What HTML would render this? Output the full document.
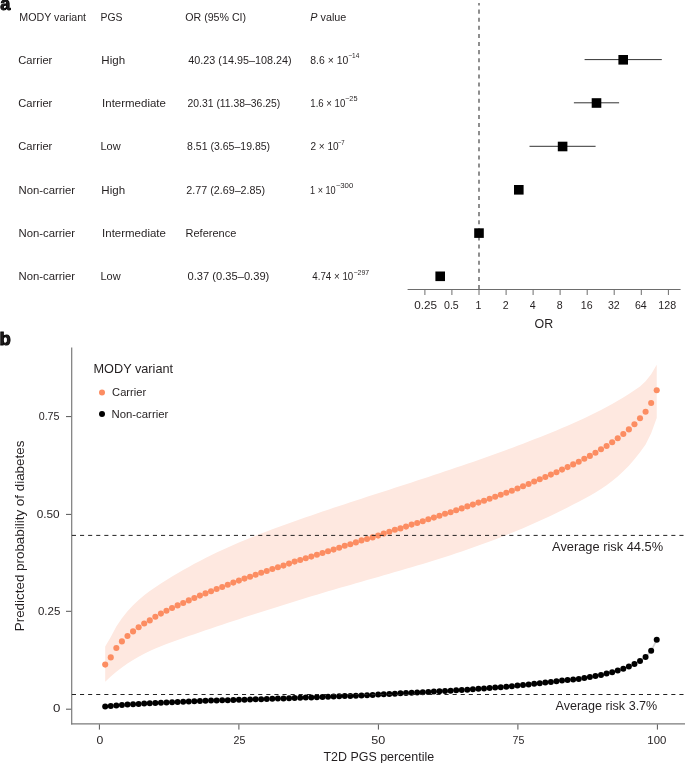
<!DOCTYPE html>
<html><head><meta charset="utf-8"><style>
html,body{margin:0;padding:0;background:#fff;}
svg{display:block;will-change:transform;}
text{font-family:"Liberation Sans", sans-serif;fill:#231f20;}
</style></head><body>
<svg width="685" height="763" viewBox="0 0 685 763">
<rect width="685" height="763" fill="#fff"/>

<text x="0.3" y="9.9" font-size="18.2" font-weight="bold" fill="#000" stroke="#000" stroke-width="0.9">a</text>
<text x="-0.6" y="345.2" font-size="18.6" font-weight="bold" fill="#000" stroke="#000" stroke-width="0.9">b</text>
<text id="h1" x="19.30" y="20.8" font-size="10.6" textLength="66.80" lengthAdjust="spacingAndGlyphs">MODY variant</text>
<text id="h2" x="100.50" y="20.8" font-size="10.6" textLength="22.00" lengthAdjust="spacingAndGlyphs">PGS</text>
<text id="h3" x="185.30" y="20.8" font-size="10.6" textLength="60.80" lengthAdjust="spacingAndGlyphs">OR (95% CI)</text>
<text id="h4" x="310.30" y="20.8" font-size="10.6" textLength="36.00" lengthAdjust="spacingAndGlyphs"><tspan font-style="italic">P</tspan> value</text>
<text id="r0c1" x="18.30" y="63.6" font-size="10.6" textLength="34.00" lengthAdjust="spacingAndGlyphs">Carrier</text>
<text id="r0c2" x="101.30" y="63.6" font-size="10.6" textLength="23.80" lengthAdjust="spacingAndGlyphs">High</text>
<text id="r0c3" x="188.30" y="63.6" font-size="10.6" textLength="103.20" lengthAdjust="spacingAndGlyphs">40.23 (14.95–108.24)</text>
<text id="r0p" x="310.30" y="63.6" font-size="10.6" textLength="38.00" lengthAdjust="spacingAndGlyphs">8.6 × 10</text>
<text id="r0s" x="348.30" y="57.9" font-size="6.9" textLength="11.00" lengthAdjust="spacingAndGlyphs">−14</text>
<text id="r1c1" x="18.30" y="107" font-size="10.6" textLength="34.00" lengthAdjust="spacingAndGlyphs">Carrier</text>
<text id="r1c2" x="102.10" y="107" font-size="10.6" textLength="63.80" lengthAdjust="spacingAndGlyphs">Intermediate</text>
<text id="r1c3" x="187.50" y="107" font-size="10.6" textLength="92.80" lengthAdjust="spacingAndGlyphs">20.31 (11.38–36.25)</text>
<text id="r1p" x="310.30" y="107" font-size="10.6" textLength="35.00" lengthAdjust="spacingAndGlyphs">1.6 × 10</text>
<text id="r1s" x="345.10" y="101.3" font-size="6.9" textLength="12.40" lengthAdjust="spacingAndGlyphs">−25</text>
<text id="r2c1" x="18.30" y="150.4" font-size="10.6" textLength="34.00" lengthAdjust="spacingAndGlyphs">Carrier</text>
<text id="r2c2" x="100.50" y="150.4" font-size="10.6" textLength="20.20" lengthAdjust="spacingAndGlyphs">Low</text>
<text id="r2c3" x="187.10" y="150.4" font-size="10.6" textLength="83.00" lengthAdjust="spacingAndGlyphs">8.51 (3.65–19.85)</text>
<text id="r2p" x="310.50" y="150.4" font-size="10.6" textLength="28.20" lengthAdjust="spacingAndGlyphs">2 × 10</text>
<text id="r2s" x="337.70" y="144.7" font-size="6.9" textLength="6.80" lengthAdjust="spacingAndGlyphs">−7</text>
<text id="r3c1" x="18.50" y="193.6" font-size="10.6" textLength="56.60" lengthAdjust="spacingAndGlyphs">Non-carrier</text>
<text id="r3c2" x="101.30" y="193.6" font-size="10.6" textLength="23.80" lengthAdjust="spacingAndGlyphs">High</text>
<text id="r3c3" x="186.30" y="193.6" font-size="10.6" textLength="78.80" lengthAdjust="spacingAndGlyphs">2.77 (2.69–2.85)</text>
<text id="r3p" x="310.10" y="193.6" font-size="10.6" textLength="25.60" lengthAdjust="spacingAndGlyphs">1 × 10</text>
<text id="r3s" x="335.70" y="187.9" font-size="6.9" textLength="17.60" lengthAdjust="spacingAndGlyphs">−300</text>
<text id="r4c1" x="18.50" y="237" font-size="10.6" textLength="56.60" lengthAdjust="spacingAndGlyphs">Non-carrier</text>
<text id="r4c2" x="102.10" y="237" font-size="10.6" textLength="63.80" lengthAdjust="spacingAndGlyphs">Intermediate</text>
<text id="r4c3" x="185.50" y="237" font-size="10.6" textLength="50.80" lengthAdjust="spacingAndGlyphs">Reference</text>
<text id="r5c1" x="18.50" y="280.4" font-size="10.6" textLength="56.60" lengthAdjust="spacingAndGlyphs">Non-carrier</text>
<text id="r5c2" x="100.50" y="280.4" font-size="10.6" textLength="20.20" lengthAdjust="spacingAndGlyphs">Low</text>
<text id="r5c3" x="187.50" y="280.4" font-size="10.6" textLength="81.80" lengthAdjust="spacingAndGlyphs">0.37 (0.35–0.39)</text>
<text id="r5p" x="312.30" y="280.4" font-size="10.6" textLength="41.00" lengthAdjust="spacingAndGlyphs">4.74 × 10</text>
<text id="r5s" x="353.50" y="274.7" font-size="6.9" textLength="15.60" lengthAdjust="spacingAndGlyphs">−297</text>
<text id="fOR" x="534.50" y="328.4" font-size="12" textLength="18.60" lengthAdjust="spacingAndGlyphs">OR</text>
<text id="yt0" x="53.10" y="712.4" font-size="10.6" textLength="7.40" lengthAdjust="spacingAndGlyphs">0</text>
<text id="yt1" x="37.90" y="614.8" font-size="10.6" textLength="22.40" lengthAdjust="spacingAndGlyphs">0.25</text>
<text id="yt2" x="36.70" y="517.6" font-size="10.6" textLength="23.00" lengthAdjust="spacingAndGlyphs">0.50</text>
<text id="yt3" x="38.70" y="420.2" font-size="10.6" textLength="20.80" lengthAdjust="spacingAndGlyphs">0.75</text>
<text id="xt0" x="96.50" y="743.8" font-size="10.6" textLength="6.80" lengthAdjust="spacingAndGlyphs">0</text>
<text id="xt50" x="371.30" y="743.8" font-size="10.6" textLength="14.00" lengthAdjust="spacingAndGlyphs">50</text>
<text id="xt100" x="647.30" y="743.8" font-size="10.6" textLength="19.00" lengthAdjust="spacingAndGlyphs">100</text>
<text id="t2d" x="323.50" y="760.6" font-size="12.4" textLength="110.60" lengthAdjust="spacingAndGlyphs">T2D PGS percentile</text>
<text id="avg1" x="552.10" y="551.4" font-size="12.2" textLength="111.00" lengthAdjust="spacingAndGlyphs">Average risk 44.5%</text>
<text id="avg2" x="555.50" y="710" font-size="12.2" textLength="101.80" lengthAdjust="spacingAndGlyphs">Average risk 3.7%</text>
<text id="leg0" x="93.50" y="372.6" font-size="12.4" textLength="79.60" lengthAdjust="spacingAndGlyphs">MODY variant</text>
<text id="leg1" x="112.10" y="396.4" font-size="10.8" textLength="34.00" lengthAdjust="spacingAndGlyphs">Carrier</text>
<text id="leg2" x="111.50" y="418" font-size="10.8" textLength="56.80" lengthAdjust="spacingAndGlyphs">Non-carrier</text>
<text id="ft0.25" x="414.30" y="309" font-size="10.6" textLength="22.80" lengthAdjust="spacingAndGlyphs">0.25</text>
<text x="451.4" y="309" font-size="10.6" text-anchor="middle">0.5</text>
<text x="478.5" y="309" font-size="10.6" text-anchor="middle">1</text>
<text x="505.6" y="309" font-size="10.6" text-anchor="middle">2</text>
<text x="532.6" y="309" font-size="10.6" text-anchor="middle">4</text>
<text x="559.6" y="309" font-size="10.6" text-anchor="middle">8</text>
<text x="586.7" y="309" font-size="10.6" text-anchor="middle">16</text>
<text x="613.8" y="309" font-size="10.6" text-anchor="middle">32</text>
<text x="640.8" y="309" font-size="10.6" text-anchor="middle">64</text>
<text id="ft128" x="658.30" y="309" font-size="10.6" textLength="17.80" lengthAdjust="spacingAndGlyphs">128</text>
<g stroke="#6d6d6d" stroke-width="1" fill="none">
<line x1="407.6" y1="289.5" x2="680.6" y2="289.5"/>
<line x1="424.9" y1="289.5" x2="424.9" y2="295"/>
<line x1="451.9" y1="289.5" x2="451.9" y2="295"/>
<line x1="479.0" y1="289.5" x2="479.0" y2="295"/>
<line x1="506.1" y1="289.5" x2="506.1" y2="295"/>
<line x1="533.1" y1="289.5" x2="533.1" y2="295"/>
<line x1="560.1" y1="289.5" x2="560.1" y2="295"/>
<line x1="587.2" y1="289.5" x2="587.2" y2="295"/>
<line x1="614.2" y1="289.5" x2="614.2" y2="295"/>
<line x1="641.3" y1="289.5" x2="641.3" y2="295"/>
<line x1="668.4" y1="289.5" x2="668.4" y2="295"/>
</g>
<line x1="479.0" y1="3.0" x2="479.0" y2="289.4" stroke="#2a2a2a" stroke-width="1.05" stroke-dasharray="4.05 4.05" stroke-dashoffset="1.5"/>
<line x1="584.6" y1="59.6" x2="661.8" y2="59.6" stroke="#333" stroke-width="1"/>
<rect x="618.4" y="55.0" width="9.6" height="9.6" fill="#000"/>
<line x1="573.9" y1="102.8" x2="619.1" y2="102.8" stroke="#333" stroke-width="1"/>
<rect x="591.7" y="98.2" width="9.6" height="9.6" fill="#000"/>
<line x1="529.5" y1="146.3" x2="595.6" y2="146.3" stroke="#333" stroke-width="1"/>
<rect x="557.8" y="141.7" width="9.6" height="9.6" fill="#000"/>
<rect x="514.0" y="185.0" width="9.6" height="9.6" fill="#000"/>
<rect x="474.2" y="228.29999999999998" width="9.6" height="9.6" fill="#000"/>
<rect x="435.4" y="271.5" width="9.6" height="9.6" fill="#000"/>
<path d="M105.20,646.53 L110.77,636.95 L116.34,626.42 L121.91,618.29 L127.48,611.35 L133.06,605.30 L138.63,600.01 L144.20,595.33 L149.77,591.12 L155.34,587.25 L160.91,583.57 L166.48,580.02 L172.05,576.57 L177.62,573.24 L183.19,570.01 L188.77,566.88 L194.34,563.84 L199.91,560.90 L205.48,558.05 L211.05,555.28 L216.62,552.59 L222.19,549.98 L227.76,547.44 L233.33,544.98 L238.91,542.57 L244.48,540.23 L250.05,537.94 L255.62,535.71 L261.19,533.52 L266.76,531.38 L272.33,529.28 L277.90,527.22 L283.47,525.19 L289.04,523.19 L294.62,521.22 L300.19,519.26 L305.76,517.33 L311.33,515.41 L316.90,513.50 L322.47,511.61 L328.04,509.74 L333.61,507.87 L339.18,506.02 L344.75,504.17 L350.32,502.34 L355.90,500.51 L361.47,498.68 L367.04,496.87 L372.61,495.05 L378.18,493.24 L383.75,491.44 L389.32,489.63 L394.89,487.82 L400.46,486.01 L406.03,484.20 L411.61,482.39 L417.18,480.57 L422.75,478.74 L428.32,476.91 L433.89,475.07 L439.46,473.22 L445.03,471.36 L450.60,469.49 L456.17,467.61 L461.75,465.72 L467.32,463.81 L472.89,461.88 L478.46,459.94 L484.03,457.98 L489.60,456.00 L495.17,454.00 L500.74,451.98 L506.31,449.94 L511.88,447.88 L517.45,445.79 L523.03,443.67 L528.60,441.53 L534.17,439.36 L539.74,437.16 L545.31,434.94 L550.88,432.68 L556.45,430.39 L562.02,428.05 L567.59,425.67 L573.16,423.23 L578.74,420.72 L584.31,418.14 L589.88,415.48 L595.45,412.73 L601.02,409.89 L606.59,406.94 L612.16,403.88 L617.73,400.70 L623.30,397.39 L628.88,393.95 L634.45,390.37 L640.02,386.40 L645.59,381.31 L651.16,374.32 L656.73,364.64 L656.73,417.95 L651.16,433.34 L645.59,444.43 L640.02,452.27 L634.45,459.32 L628.88,465.65 L623.30,471.33 L617.73,476.43 L612.16,481.01 L606.59,485.16 L601.02,488.93 L595.45,492.40 L589.88,495.64 L584.31,498.72 L578.74,501.70 L573.16,504.62 L567.59,507.47 L562.02,510.26 L556.45,513.00 L550.88,515.67 L545.31,518.29 L539.74,520.85 L534.17,523.35 L528.60,525.80 L523.03,528.20 L517.45,530.54 L511.88,532.84 L506.31,535.09 L500.74,537.29 L495.17,539.44 L489.60,541.54 L484.03,543.61 L478.46,545.62 L472.89,547.60 L467.32,549.54 L461.75,551.44 L456.17,553.31 L450.60,555.14 L445.03,556.94 L439.46,558.71 L433.89,560.46 L428.32,562.18 L422.75,563.88 L417.18,565.56 L411.61,567.22 L406.03,568.86 L400.46,570.49 L394.89,572.11 L389.32,573.72 L383.75,575.32 L378.18,576.91 L372.61,578.51 L367.04,580.10 L361.47,581.69 L355.90,583.28 L350.32,584.88 L344.75,586.49 L339.18,588.11 L333.61,589.73 L328.04,591.37 L322.47,593.02 L316.90,594.68 L311.33,596.36 L305.76,598.04 L300.19,599.74 L294.62,601.44 L289.04,603.16 L283.47,604.89 L277.90,606.63 L272.33,608.39 L266.76,610.15 L261.19,611.93 L255.62,613.72 L250.05,615.52 L244.48,617.33 L238.91,619.16 L233.33,620.99 L227.76,622.84 L222.19,624.70 L216.62,626.57 L211.05,628.46 L205.48,630.36 L199.91,632.27 L194.34,634.19 L188.77,636.12 L183.19,638.07 L177.62,640.03 L172.05,642.01 L166.48,644.07 L160.91,646.23 L155.34,648.53 L149.77,651.00 L144.20,653.70 L138.63,656.64 L133.06,659.88 L127.48,663.45 L121.91,667.38 L116.34,671.72 L110.77,676.49 L105.20,681.75 Z" fill="#fee8e0"/>
<g stroke="#7a7a7a" stroke-width="1.2" fill="none">
<line x1="71.7" y1="347.6" x2="71.7" y2="724.4"/>
<line x1="71.1" y1="723.8" x2="685" y2="723.8"/>
</g>
<g stroke="#555" stroke-width="1" fill="none">
<line x1="66" y1="709.2" x2="71.2" y2="709.2"/>
<line x1="66" y1="611.3" x2="71.2" y2="611.3"/>
<line x1="66" y1="514.4" x2="71.2" y2="514.4"/>
<line x1="66" y1="416.6" x2="71.2" y2="416.6"/>
<line x1="99.4" y1="724.4" x2="99.4" y2="729.6"/>
<line x1="238.9" y1="724.4" x2="238.9" y2="729.6"/>
<line x1="378.4" y1="724.4" x2="378.4" y2="729.6"/>
<line x1="517.9" y1="724.4" x2="517.9" y2="729.6"/>
<line x1="657.4" y1="724.4" x2="657.4" y2="729.6"/>
</g>
<text x="239.4" y="743.8" font-size="10.6" text-anchor="middle">25</text>
<text x="518.4" y="743.8" font-size="10.6" text-anchor="middle">75</text>
<text transform="translate(24.2,535.95) rotate(-90)" x="0" y="0" font-size="13.6" text-anchor="middle" textLength="190.6" lengthAdjust="spacingAndGlyphs">Predicted probability of diabetes</text>
<circle cx="102" cy="392.4" r="3" fill="#fc8d62"/>
<circle cx="102" cy="414" r="3" fill="#000"/>
<polyline fill="none" stroke="#d4d4d4" stroke-width="1.7" points="105.20,706.60 110.77,705.90 116.34,705.40 121.91,704.98 127.48,704.60 133.06,704.25 138.63,703.91 144.20,703.59 149.77,703.28 155.34,703.00 160.91,702.74 166.48,702.50 172.05,702.26 177.62,702.03 183.19,701.80 188.77,701.55 194.34,701.29 199.91,701.04 205.48,700.80 211.05,700.60 216.62,700.43 222.19,700.29 227.76,700.15 233.33,700.00 238.91,699.84 244.48,699.68 250.05,699.52 255.62,699.35 261.19,699.18 266.76,699.00 272.33,698.81 277.90,698.61 283.47,698.41 289.04,698.20 294.62,698.00 300.19,697.80 305.76,697.61 311.33,697.41 316.90,697.21 322.47,697.00 328.04,696.79 333.61,696.57 339.18,696.34 344.75,696.12 350.32,695.88 355.90,695.65 361.47,695.40 367.04,695.15 372.61,694.88 378.18,694.60 383.75,694.30 389.32,693.97 394.89,693.64 400.46,693.31 406.03,693.00 411.61,692.71 417.18,692.44 422.75,692.16 428.32,691.89 433.89,691.60 439.46,691.30 445.03,690.99 450.60,690.68 456.17,690.35 461.75,690.00 467.32,689.63 472.89,689.23 478.46,688.82 484.03,688.41 489.60,688.00 495.17,687.60 500.74,687.14 506.31,686.65 511.88,686.14 517.45,685.60 523.03,685.04 528.60,684.45 534.17,683.84 539.74,683.22 545.31,682.60 550.88,681.95 556.45,681.25 562.02,680.57 567.59,679.93 573.16,679.40 578.74,679.00 584.31,678.00 589.88,677.00 595.45,676.00 601.02,675.00 606.59,673.60 612.16,672.20 617.73,670.60 623.30,668.80 628.88,666.60 634.45,664.00 640.02,661.00 645.59,657.00 651.16,650.80 656.73,639.80"/>
<circle cx="105.20" cy="706.60" r="3.0" fill="#000"/>
<circle cx="110.77" cy="705.90" r="3.0" fill="#000"/>
<circle cx="116.34" cy="705.40" r="3.0" fill="#000"/>
<circle cx="121.91" cy="704.98" r="3.0" fill="#000"/>
<circle cx="127.48" cy="704.60" r="3.0" fill="#000"/>
<circle cx="133.06" cy="704.25" r="3.0" fill="#000"/>
<circle cx="138.63" cy="703.91" r="3.0" fill="#000"/>
<circle cx="144.20" cy="703.59" r="3.0" fill="#000"/>
<circle cx="149.77" cy="703.28" r="3.0" fill="#000"/>
<circle cx="155.34" cy="703.00" r="3.0" fill="#000"/>
<circle cx="160.91" cy="702.74" r="3.0" fill="#000"/>
<circle cx="166.48" cy="702.50" r="3.0" fill="#000"/>
<circle cx="172.05" cy="702.26" r="3.0" fill="#000"/>
<circle cx="177.62" cy="702.03" r="3.0" fill="#000"/>
<circle cx="183.19" cy="701.80" r="3.0" fill="#000"/>
<circle cx="188.77" cy="701.55" r="3.0" fill="#000"/>
<circle cx="194.34" cy="701.29" r="3.0" fill="#000"/>
<circle cx="199.91" cy="701.04" r="3.0" fill="#000"/>
<circle cx="205.48" cy="700.80" r="3.0" fill="#000"/>
<circle cx="211.05" cy="700.60" r="3.0" fill="#000"/>
<circle cx="216.62" cy="700.43" r="3.0" fill="#000"/>
<circle cx="222.19" cy="700.29" r="3.0" fill="#000"/>
<circle cx="227.76" cy="700.15" r="3.0" fill="#000"/>
<circle cx="233.33" cy="700.00" r="3.0" fill="#000"/>
<circle cx="238.91" cy="699.84" r="3.0" fill="#000"/>
<circle cx="244.48" cy="699.68" r="3.0" fill="#000"/>
<circle cx="250.05" cy="699.52" r="3.0" fill="#000"/>
<circle cx="255.62" cy="699.35" r="3.0" fill="#000"/>
<circle cx="261.19" cy="699.18" r="3.0" fill="#000"/>
<circle cx="266.76" cy="699.00" r="3.0" fill="#000"/>
<circle cx="272.33" cy="698.81" r="3.0" fill="#000"/>
<circle cx="277.90" cy="698.61" r="3.0" fill="#000"/>
<circle cx="283.47" cy="698.41" r="3.0" fill="#000"/>
<circle cx="289.04" cy="698.20" r="3.0" fill="#000"/>
<circle cx="294.62" cy="698.00" r="3.0" fill="#000"/>
<circle cx="300.19" cy="697.80" r="3.0" fill="#000"/>
<circle cx="305.76" cy="697.61" r="3.0" fill="#000"/>
<circle cx="311.33" cy="697.41" r="3.0" fill="#000"/>
<circle cx="316.90" cy="697.21" r="3.0" fill="#000"/>
<circle cx="322.47" cy="697.00" r="3.0" fill="#000"/>
<circle cx="328.04" cy="696.79" r="3.0" fill="#000"/>
<circle cx="333.61" cy="696.57" r="3.0" fill="#000"/>
<circle cx="339.18" cy="696.34" r="3.0" fill="#000"/>
<circle cx="344.75" cy="696.12" r="3.0" fill="#000"/>
<circle cx="350.32" cy="695.88" r="3.0" fill="#000"/>
<circle cx="355.90" cy="695.65" r="3.0" fill="#000"/>
<circle cx="361.47" cy="695.40" r="3.0" fill="#000"/>
<circle cx="367.04" cy="695.15" r="3.0" fill="#000"/>
<circle cx="372.61" cy="694.88" r="3.0" fill="#000"/>
<circle cx="378.18" cy="694.60" r="3.0" fill="#000"/>
<circle cx="383.75" cy="694.30" r="3.0" fill="#000"/>
<circle cx="389.32" cy="693.97" r="3.0" fill="#000"/>
<circle cx="394.89" cy="693.64" r="3.0" fill="#000"/>
<circle cx="400.46" cy="693.31" r="3.0" fill="#000"/>
<circle cx="406.03" cy="693.00" r="3.0" fill="#000"/>
<circle cx="411.61" cy="692.71" r="3.0" fill="#000"/>
<circle cx="417.18" cy="692.44" r="3.0" fill="#000"/>
<circle cx="422.75" cy="692.16" r="3.0" fill="#000"/>
<circle cx="428.32" cy="691.89" r="3.0" fill="#000"/>
<circle cx="433.89" cy="691.60" r="3.0" fill="#000"/>
<circle cx="439.46" cy="691.30" r="3.0" fill="#000"/>
<circle cx="445.03" cy="690.99" r="3.0" fill="#000"/>
<circle cx="450.60" cy="690.68" r="3.0" fill="#000"/>
<circle cx="456.17" cy="690.35" r="3.0" fill="#000"/>
<circle cx="461.75" cy="690.00" r="3.0" fill="#000"/>
<circle cx="467.32" cy="689.63" r="3.0" fill="#000"/>
<circle cx="472.89" cy="689.23" r="3.0" fill="#000"/>
<circle cx="478.46" cy="688.82" r="3.0" fill="#000"/>
<circle cx="484.03" cy="688.41" r="3.0" fill="#000"/>
<circle cx="489.60" cy="688.00" r="3.0" fill="#000"/>
<circle cx="495.17" cy="687.60" r="3.0" fill="#000"/>
<circle cx="500.74" cy="687.14" r="3.0" fill="#000"/>
<circle cx="506.31" cy="686.65" r="3.0" fill="#000"/>
<circle cx="511.88" cy="686.14" r="3.0" fill="#000"/>
<circle cx="517.45" cy="685.60" r="3.0" fill="#000"/>
<circle cx="523.03" cy="685.04" r="3.0" fill="#000"/>
<circle cx="528.60" cy="684.45" r="3.0" fill="#000"/>
<circle cx="534.17" cy="683.84" r="3.0" fill="#000"/>
<circle cx="539.74" cy="683.22" r="3.0" fill="#000"/>
<circle cx="545.31" cy="682.60" r="3.0" fill="#000"/>
<circle cx="550.88" cy="681.95" r="3.0" fill="#000"/>
<circle cx="556.45" cy="681.25" r="3.0" fill="#000"/>
<circle cx="562.02" cy="680.57" r="3.0" fill="#000"/>
<circle cx="567.59" cy="679.93" r="3.0" fill="#000"/>
<circle cx="573.16" cy="679.40" r="3.0" fill="#000"/>
<circle cx="578.74" cy="679.00" r="3.0" fill="#000"/>
<circle cx="584.31" cy="678.00" r="3.0" fill="#000"/>
<circle cx="589.88" cy="677.00" r="3.0" fill="#000"/>
<circle cx="595.45" cy="676.00" r="3.0" fill="#000"/>
<circle cx="601.02" cy="675.00" r="3.0" fill="#000"/>
<circle cx="606.59" cy="673.60" r="3.0" fill="#000"/>
<circle cx="612.16" cy="672.20" r="3.0" fill="#000"/>
<circle cx="617.73" cy="670.60" r="3.0" fill="#000"/>
<circle cx="623.30" cy="668.80" r="3.0" fill="#000"/>
<circle cx="628.88" cy="666.60" r="3.0" fill="#000"/>
<circle cx="634.45" cy="664.00" r="3.0" fill="#000"/>
<circle cx="640.02" cy="661.00" r="3.0" fill="#000"/>
<circle cx="645.59" cy="657.00" r="3.0" fill="#000"/>
<circle cx="651.16" cy="650.80" r="3.0" fill="#000"/>
<circle cx="656.73" cy="639.80" r="3.0" fill="#000"/>
<circle cx="105.20" cy="664.60" r="3.05" fill="#fc8d62"/>
<circle cx="110.77" cy="657.40" r="3.05" fill="#fc8d62"/>
<circle cx="116.34" cy="648.00" r="3.05" fill="#fc8d62"/>
<circle cx="121.91" cy="641.40" r="3.05" fill="#fc8d62"/>
<circle cx="127.48" cy="636.00" r="3.05" fill="#fc8d62"/>
<circle cx="133.06" cy="631.40" r="3.05" fill="#fc8d62"/>
<circle cx="138.63" cy="627.20" r="3.05" fill="#fc8d62"/>
<circle cx="144.20" cy="623.50" r="3.05" fill="#fc8d62"/>
<circle cx="149.77" cy="620.40" r="3.05" fill="#fc8d62"/>
<circle cx="155.34" cy="616.80" r="3.05" fill="#fc8d62"/>
<circle cx="160.91" cy="613.60" r="3.05" fill="#fc8d62"/>
<circle cx="166.48" cy="610.80" r="3.05" fill="#fc8d62"/>
<circle cx="172.05" cy="608.00" r="3.05" fill="#fc8d62"/>
<circle cx="177.62" cy="605.40" r="3.05" fill="#fc8d62"/>
<circle cx="183.19" cy="603.00" r="3.05" fill="#fc8d62"/>
<circle cx="188.77" cy="600.40" r="3.05" fill="#fc8d62"/>
<circle cx="194.34" cy="598.00" r="3.05" fill="#fc8d62"/>
<circle cx="199.91" cy="595.60" r="3.05" fill="#fc8d62"/>
<circle cx="205.48" cy="593.40" r="3.05" fill="#fc8d62"/>
<circle cx="211.05" cy="591.20" r="3.05" fill="#fc8d62"/>
<circle cx="216.62" cy="589.00" r="3.05" fill="#fc8d62"/>
<circle cx="222.19" cy="587.00" r="3.05" fill="#fc8d62"/>
<circle cx="227.76" cy="584.80" r="3.05" fill="#fc8d62"/>
<circle cx="233.33" cy="582.60" r="3.05" fill="#fc8d62"/>
<circle cx="238.91" cy="580.60" r="3.05" fill="#fc8d62"/>
<circle cx="244.48" cy="578.60" r="3.05" fill="#fc8d62"/>
<circle cx="250.05" cy="576.80" r="3.05" fill="#fc8d62"/>
<circle cx="255.62" cy="574.80" r="3.05" fill="#fc8d62"/>
<circle cx="261.19" cy="572.80" r="3.05" fill="#fc8d62"/>
<circle cx="266.76" cy="571.00" r="3.05" fill="#fc8d62"/>
<circle cx="272.33" cy="569.00" r="3.05" fill="#fc8d62"/>
<circle cx="277.90" cy="567.20" r="3.05" fill="#fc8d62"/>
<circle cx="283.47" cy="565.60" r="3.05" fill="#fc8d62"/>
<circle cx="289.04" cy="563.60" r="3.05" fill="#fc8d62"/>
<circle cx="294.62" cy="561.60" r="3.05" fill="#fc8d62"/>
<circle cx="300.19" cy="560.00" r="3.05" fill="#fc8d62"/>
<circle cx="305.76" cy="558.20" r="3.05" fill="#fc8d62"/>
<circle cx="311.33" cy="556.60" r="3.05" fill="#fc8d62"/>
<circle cx="316.90" cy="554.80" r="3.05" fill="#fc8d62"/>
<circle cx="322.47" cy="553.00" r="3.05" fill="#fc8d62"/>
<circle cx="328.04" cy="551.20" r="3.05" fill="#fc8d62"/>
<circle cx="333.61" cy="549.60" r="3.05" fill="#fc8d62"/>
<circle cx="339.18" cy="547.80" r="3.05" fill="#fc8d62"/>
<circle cx="344.75" cy="545.80" r="3.05" fill="#fc8d62"/>
<circle cx="350.32" cy="544.20" r="3.05" fill="#fc8d62"/>
<circle cx="355.90" cy="542.40" r="3.05" fill="#fc8d62"/>
<circle cx="361.47" cy="540.40" r="3.05" fill="#fc8d62"/>
<circle cx="367.04" cy="539.00" r="3.05" fill="#fc8d62"/>
<circle cx="372.61" cy="537.40" r="3.05" fill="#fc8d62"/>
<circle cx="378.18" cy="535.60" r="3.05" fill="#fc8d62"/>
<circle cx="383.75" cy="533.60" r="3.05" fill="#fc8d62"/>
<circle cx="389.32" cy="531.80" r="3.05" fill="#fc8d62"/>
<circle cx="394.89" cy="529.80" r="3.05" fill="#fc8d62"/>
<circle cx="400.46" cy="528.40" r="3.05" fill="#fc8d62"/>
<circle cx="406.03" cy="526.60" r="3.05" fill="#fc8d62"/>
<circle cx="411.61" cy="524.60" r="3.05" fill="#fc8d62"/>
<circle cx="417.18" cy="523.00" r="3.05" fill="#fc8d62"/>
<circle cx="422.75" cy="521.20" r="3.05" fill="#fc8d62"/>
<circle cx="428.32" cy="519.20" r="3.05" fill="#fc8d62"/>
<circle cx="433.89" cy="517.60" r="3.05" fill="#fc8d62"/>
<circle cx="439.46" cy="515.80" r="3.05" fill="#fc8d62"/>
<circle cx="445.03" cy="513.80" r="3.05" fill="#fc8d62"/>
<circle cx="450.60" cy="512.20" r="3.05" fill="#fc8d62"/>
<circle cx="456.17" cy="510.20" r="3.05" fill="#fc8d62"/>
<circle cx="461.75" cy="508.40" r="3.05" fill="#fc8d62"/>
<circle cx="467.32" cy="506.40" r="3.05" fill="#fc8d62"/>
<circle cx="472.89" cy="504.60" r="3.05" fill="#fc8d62"/>
<circle cx="478.46" cy="502.60" r="3.05" fill="#fc8d62"/>
<circle cx="484.03" cy="500.70" r="3.05" fill="#fc8d62"/>
<circle cx="489.60" cy="498.80" r="3.05" fill="#fc8d62"/>
<circle cx="495.17" cy="496.70" r="3.05" fill="#fc8d62"/>
<circle cx="500.74" cy="494.80" r="3.05" fill="#fc8d62"/>
<circle cx="506.31" cy="492.80" r="3.05" fill="#fc8d62"/>
<circle cx="511.88" cy="490.80" r="3.05" fill="#fc8d62"/>
<circle cx="517.45" cy="488.50" r="3.05" fill="#fc8d62"/>
<circle cx="523.03" cy="486.30" r="3.05" fill="#fc8d62"/>
<circle cx="528.60" cy="484.00" r="3.05" fill="#fc8d62"/>
<circle cx="534.17" cy="481.50" r="3.05" fill="#fc8d62"/>
<circle cx="539.74" cy="479.20" r="3.05" fill="#fc8d62"/>
<circle cx="545.31" cy="477.00" r="3.05" fill="#fc8d62"/>
<circle cx="550.88" cy="474.60" r="3.05" fill="#fc8d62"/>
<circle cx="556.45" cy="472.20" r="3.05" fill="#fc8d62"/>
<circle cx="562.02" cy="469.60" r="3.05" fill="#fc8d62"/>
<circle cx="567.59" cy="467.10" r="3.05" fill="#fc8d62"/>
<circle cx="573.16" cy="464.40" r="3.05" fill="#fc8d62"/>
<circle cx="578.74" cy="461.70" r="3.05" fill="#fc8d62"/>
<circle cx="584.31" cy="458.70" r="3.05" fill="#fc8d62"/>
<circle cx="589.88" cy="455.90" r="3.05" fill="#fc8d62"/>
<circle cx="595.45" cy="452.70" r="3.05" fill="#fc8d62"/>
<circle cx="601.02" cy="449.30" r="3.05" fill="#fc8d62"/>
<circle cx="606.59" cy="446.00" r="3.05" fill="#fc8d62"/>
<circle cx="612.16" cy="442.20" r="3.05" fill="#fc8d62"/>
<circle cx="617.73" cy="438.20" r="3.05" fill="#fc8d62"/>
<circle cx="623.30" cy="434.00" r="3.05" fill="#fc8d62"/>
<circle cx="628.88" cy="429.40" r="3.05" fill="#fc8d62"/>
<circle cx="634.45" cy="424.20" r="3.05" fill="#fc8d62"/>
<circle cx="640.02" cy="418.20" r="3.05" fill="#fc8d62"/>
<circle cx="645.59" cy="411.70" r="3.05" fill="#fc8d62"/>
<circle cx="651.16" cy="403.00" r="3.05" fill="#fc8d62"/>
<circle cx="656.73" cy="390.20" r="3.05" fill="#fc8d62"/>
<line x1="71.9" y1="535.4" x2="685" y2="535.4" stroke="#222" stroke-width="1" stroke-dasharray="4.1 4"/>
<line x1="71.9" y1="694.5" x2="685" y2="694.5" stroke="#222" stroke-width="1" stroke-dasharray="4.1 4"/>
</svg></body></html>
